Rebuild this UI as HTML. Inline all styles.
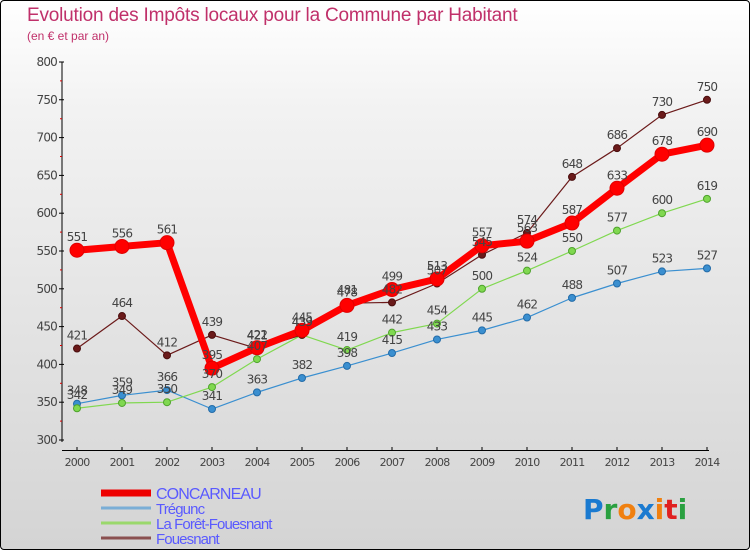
<!DOCTYPE html>
<html><head><meta charset="utf-8">
<style>
html,body{margin:0;padding:0;}
body{width:750px;height:550px;overflow:hidden;font-family:"DejaVu Sans","Liberation Sans",sans-serif;}
#wrap{position:absolute;left:0;top:0;width:748px;height:548px;border:1px solid #000;border-radius:4px;background:linear-gradient(#ffffff,#f2f2f2 20%,#d4d4d4);overflow:hidden;}
.t{position:absolute;color:#c0306a;white-space:nowrap;font-family:"Liberation Sans",sans-serif;}
</style></head>
<body>
<div id="wrap">
<div class="t" style="left:26px;top:4px;font-size:19px;letter-spacing:-0.2px;">Evolution des Impôts locaux pour la Commune par Habitant</div>
<div class="t" style="left:26px;top:28px;font-size:12px;">(en € et par an)</div>
<svg id="chart" width="750" height="550" style="position:absolute;left:0;top:0"></svg>
</div>
<script>
const years=[2000,2001,2002,2003,2004,2005,2006,2007,2008,2009,2010,2011,2012,2013,2014];
const concarneau=[551,556,561,395,422,445,478,499,513,557,563,587,633,678,690];
const tregunc=[348,359,366,341,363,382,398,415,433,445,462,488,507,523,527];
const foret=[342,349,350,370,407,439,419,442,454,500,524,550,577,600,619];
const fouesnant=[421,464,412,439,421,439,481,482,507,545,574,648,686,730,750];
const yTicks=[300,350,400,450,500,550,600,650,700,750,800];

const svg=document.getElementById('chart');
const NS='http://www.w3.org/2000/svg';
function X(i){return 76+i*45;}
function Y(v){return 439-(v-300)*(378/500);}
function mk(tag,attrs,parent){const e=document.createElementNS(NS,tag);for(const k in attrs)e.setAttribute(k,attrs[k]);(parent||svg).appendChild(e);return e;}

const ax=mk('g',{});


mk('line',{x1:61,y1:61,x2:61,y2:441,stroke:'#000','stroke-width':1},ax);
mk('line',{x1:61,y1:449.5,x2:708,y2:449.5,stroke:'#000','stroke-width':1},ax);
for(let v=325;v<800;v+=50){mk('line',{x1:59,y1:Y(v),x2:61,y2:Y(v),stroke:'#d00','stroke-width':1},ax);}
yTicks.forEach(v=>{
  mk('line',{x1:58,y1:Y(v),x2:63,y2:Y(v),stroke:'#000','stroke-width':1},ax);
  const t=mk('text',{x:56,y:Y(v)+4,'text-anchor':'end','font-size':12,fill:'#444','letter-spacing':'-0.8'},ax);
  t.textContent=v;
  
  
});
years.forEach((y,i)=>{
  mk('line',{x1:X(i),y1:446,x2:X(i),y2:450,stroke:'#000','stroke-width':1},ax);
  const t=mk('text',{x:X(i),y:465,'text-anchor':'middle','font-size':11,fill:'#444','letter-spacing':'-0.8'},ax);
  t.textContent=y;
  
  
});

function series(data,name,color,dark,width,r){
  const g=mk('g',{});
  
  
  mk('polyline',{points:data.map((v,i)=>X(i)+','+Y(v)).join(' '),fill:'none',stroke:color,'stroke-width':width,'stroke-linejoin':'round'},g);
  data.forEach((v,i)=>{
    const c=mk('circle',{cx:X(i),cy:Y(v),r:r,fill:color,stroke:dark,'stroke-width':1},g);
    
    
  });
}
function labels(data,name){
  const g=mk('g',{});
  
  
  data.forEach((v,i)=>{
    const t=mk('text',{x:X(i),y:Y(v)-9,'text-anchor':'middle','font-size':12,fill:'#444','letter-spacing':'-0.8'},g);
    t.textContent=v;
    
    
  });
}
series(tregunc,'tregunc','#3a8fd0','#246ca8',1.2,3.5);
series(foret,'la-foret-fouesnant','#80d850','#4ea32c',1.2,3.5);
series(fouesnant,'fouesnant','#6b1a1a','#4a0e0e',1.2,3.5);
series(concarneau,'concarneau','#ff0000','#e00000',7,7);
labels(tregunc,'tregunc');labels(foret,'foret');labels(fouesnant,'fouesnant');labels(concarneau,'concarneau');

const legend=[['CONCARNEAU','#ee0000',7,16],['Trégunc','#7aaed6',3,15],['La Forêt-Fouesnant','#9ad86c',3,15],['Fouesnant','#8a5050',3,15]];
legend.forEach((l,i)=>{
  const g=mk('g',{});
  
  
  const y=492+i*15;
  mk('line',{x1:100,y1:y,x2:150,y2:y,stroke:l[1],'stroke-width':l[2]},g);
  const t=mk('text',{x:155,y:y+6,'font-size':l[3],fill:'#5a5aff','letter-spacing':'-0.9','font-family':'Liberation Sans, sans-serif'},g);
  t.textContent=l[0];
});
const lg=mk('text',{x:582,y:518,'font-size':28,'font-weight':'bold','letter-spacing':'0'});


[['P','#1a7ad0'],['r','#2aa040'],['o','#f08010'],['x','#1a7ad0'],['i','#f08010'],['t','#e02020'],['i','#2aa040']].forEach(p=>{
  const s=mk('tspan',{fill:p[1]},lg);s.textContent=p[0];
});
</script>
</body></html>
